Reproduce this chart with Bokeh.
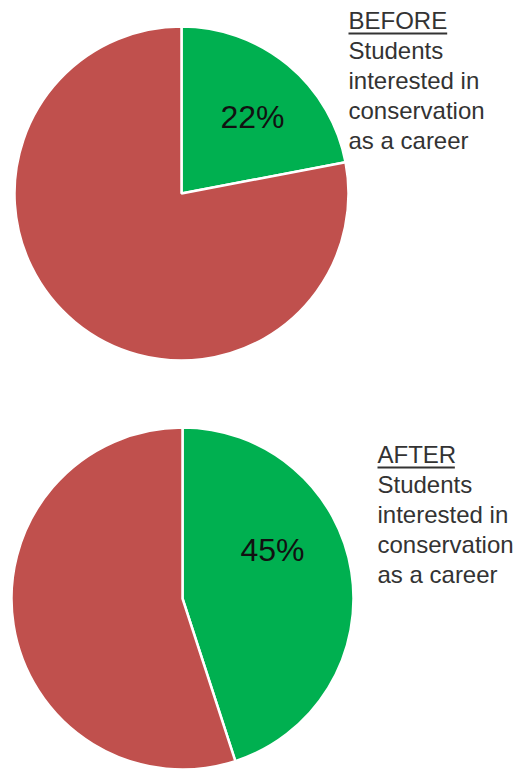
import math
from bokeh.plotting import figure
from bokeh.models import Range1d, ColumnDataSource
from bokeh.core.properties import value
from bokeh.embed import file_html
from bokeh.resources import INLINE

# ---- data ----
panels = ["BEFORE", "AFTER"]
interested_pct = [22, 45]
caption_lines = ["Students", "interested in", "conservation", "as a career"]
slice_colors = ["#00B050", "#C0504D"]  # interested, not interested

# ---- layout (screen pixels, y downward) ----
W, H = 524, 771
pie_cx = [181, 182]
pie_cy = [193, 598]
pie_r = [167, 171]
label_pos = [(252, 116), (272, 549)]
cap_x = [348, 377]
cap_top = [28, 462]   # baseline of heading
line_step = 30
text_shift = 8        # renderer draws alphabetic baseline this much lower

p = figure(width=W, height=H, output_backend="svg", toolbar_location=None,
           x_range=Range1d(0, W), y_range=Range1d(0, H), min_border=0)
p.axis.visible = False
p.grid.visible = False
p.outline_line_color = None
p.background_fill_color = "white"
p.border_fill_color = "white"

def Y(y):
    return H - y

for i, pct in enumerate(interested_pct):
    frac = pct / 100.0
    top = math.pi / 2
    green_start = top - 2 * math.pi * frac
    src = ColumnDataSource(dict(
        x=[pie_cx[i], pie_cx[i]], y=[Y(pie_cy[i]), Y(pie_cy[i])],
        start=[green_start, top], end=[top, green_start + 2 * math.pi],
        color=slice_colors,
    ))
    p.wedge(x="x", y="y", radius=pie_r[i], start_angle="start", end_angle="end",
            fill_color="color", line_color="white", line_width=2.5, source=src)

    lx, ly = label_pos[i]
    p.text(x=[lx], y=[Y(ly)], text=[f"{pct}%"], text_font=value("Liberation Sans"),
           text_font_size="32px", text_color="#111111", text_align="center",
           text_baseline="middle")

    # caption
    x0 = cap_x[i]
    lines = [panels[i]] + caption_lines
    ys = [Y(cap_top[i] - text_shift + k * line_step) for k in range(len(lines))]
    p.text(x=[x0] * len(lines), y=ys, text=lines, text_font=value("Liberation Sans"),
           text_font_size="24px", text_color="#333333", text_align="left",
           text_baseline="alphabetic")
    # underline of the heading
    width_em = {"BEFORE": 4.112, "AFTER": 3.223}[panels[i]]
    p.segment(x0=[x0], y0=[Y(cap_top[i] + 5)], x1=[x0 + width_em * 24],
              y1=[Y(cap_top[i] + 5)], line_color="#333333", line_width=2)

open("out.html", "w").write(file_html(p, INLINE))
